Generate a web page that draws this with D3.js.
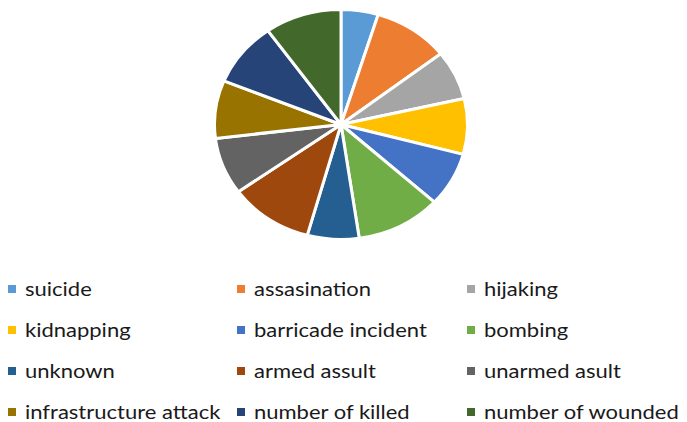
<!DOCTYPE html>
<html>
<head>
<meta charset="utf-8">
<script src="https://cdn.jsdelivr.net/npm/d3@7"></script>
<style>
  body { margin: 0; background: #fff; }
  svg { display: block; }
</style>
</head>
<body>
<div id="chart"></div>
<script>
// slice data (share of the pie, %)
const categories = ['suicide', 'assasination', 'hijaking', 'kidnapping', 'barricade incident', 'bombing',
    'unknown', 'armed assult', 'unarmed asult', 'infrastructure attack', 'number of killed', 'number of wounded'];
const values = [4.75, 9.7, 6.9, 7.8, 7.6, 10.9, 6.6, 10.75, 8.0, 8.1, 9.0, 9.8];
const colors = ['#5B9BD5', '#ED7D31', '#A5A5A5', '#FFC000', '#4472C4', '#70AD47',
    '#255E91', '#9E480E', '#636363', '#997300', '#264478', '#43682B'];

const width = 687;
const height = 422;

const svg = d3
    .select('#chart')
    .append('svg')
    .attr('width', width)
    .attr('height', height);

const data = categories.map((c, i) => ({ name: c, value: values[i], color: colors[i] }));

// the original pie is a bit wider than tall
const radius = 115;
const pieG = svg
    .append('g')
    .attr('transform', `translate(341, 124.5) scale(1.1, 1)`);

const pie = d3.pie().sort(null).value(d => d.value);
const arc = d3.arc().innerRadius(0).outerRadius(radius);

pieG
    .selectAll('path')
    .data(pie(data))
    .enter()
    .append('path')
    .attr('d', arc)
    .attr('fill', d => d.data.color)
    .attr('stroke', '#fff')
    .attr('stroke-width', 3)
    .attr('vector-effect', 'non-scaling-stroke')
    .attr('stroke-linejoin', 'round');

// legend: 3 columns x 4 rows
const colX = d3.scaleOrdinal().domain([0, 1, 2]).range([8, 237, 467]);
const rowY = d3.scaleLinear().domain([0, 3]).range([289, 412]);

const legend = svg
    .selectAll('g.legend')
    .data(data)
    .enter()
    .append('g')
    .attr('class', 'legend')
    .attr('transform', (d, i) => `translate(${colX(i % 3)}, ${rowY(Math.floor(i / 3))})`);

legend
    .append('rect')
    .attr('x', 0)
    .attr('y', -4)
    .attr('width', 8)
    .attr('height', 8)
    .attr('fill', d => d.color);

// text is stretched sideways like the pie
legend
    .append('text')
    .attr('transform', 'translate(17, 0) scale(1.1, 1)')
    .attr('dy', '0.35em')
    .style('font-family', 'Lato, sans-serif')
    .style('font-size', '20px')
    .style('fill', '#1a1a1a')
    .text(d => d.name);
</script>
</body>
</html>
